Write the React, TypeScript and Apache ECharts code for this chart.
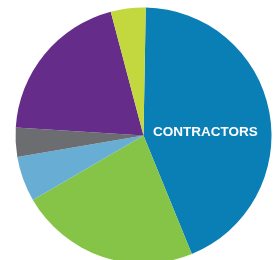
import React, { useEffect, useRef } from "react";
import * as echarts from "echarts";

const categories = ["Contractors", "Group B", "Group C", "Group D", "Group E", "Group F"];
const values = [43.6, 22.8, 5.7, 3.7, 19.9, 4.4];
const colors = ["#0A7FB5", "#85C446", "#68AED4", "#6C6D70", "#652D89", "#C3D83F"];
const labelText = "CONTRACTORS";

export default function App() {
  const ref = useRef<HTMLDivElement>(null);
  useEffect(() => {
    if (!ref.current) return;
    const chart = echarts.init(ref.current, null, { renderer: "svg" });
    chart.setOption({
      animation: false,
      graphic: [
        {
          type: "text",
          left: 153,
          top: 124,
          z: 100,
          style: {
            text: labelText,
            fill: "#ffffff",
            fontSize: 13.5,
            fontWeight: "bold",
            fontFamily: "'Liberation Sans', Arial, sans-serif",
          },
        },
      ],
      series: [
        {
          type: "pie",
          center: [143.5, 135.5],
          radius: [0, 128],
          startAngle: 89,
          clockwise: true,
          label: { show: false },
          labelLine: { show: false },
          emphasis: { disabled: true },
          itemStyle: { borderWidth: 0 },
          data: categories.map((c, i) => ({
            name: c,
            value: values[i],
            itemStyle: { color: colors[i] },
          })),
        },
      ],
    });
    return () => chart.dispose();
  }, []);
  return (
    <div
      ref={ref}
      style={{ position: "fixed", left: 0, top: 0, width: 274, height: 260 }}
    />
  );
}
